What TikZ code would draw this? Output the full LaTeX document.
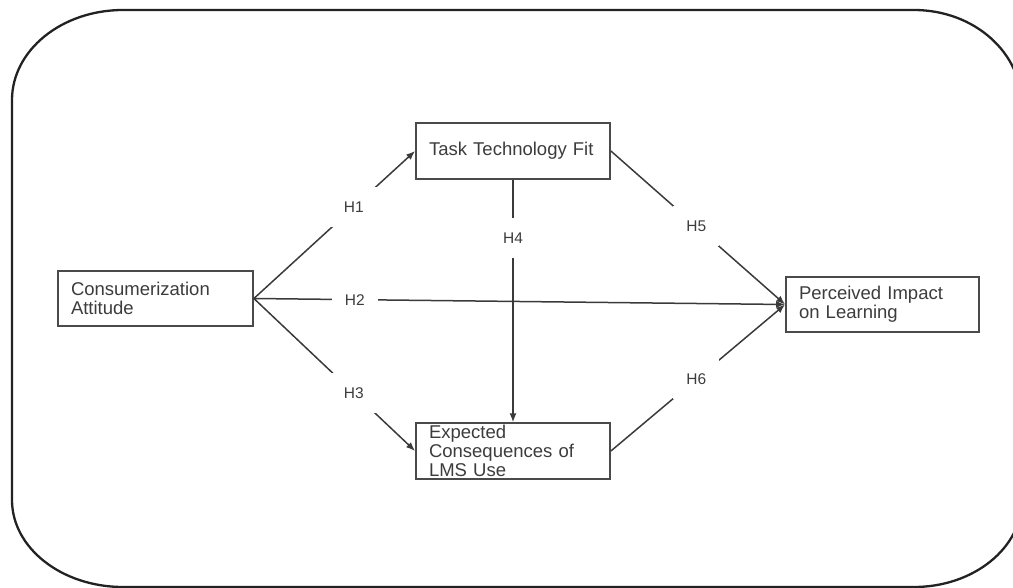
\documentclass[tikz,border=0pt]{standalone}
\usepackage{fontspec}
\setmainfont{Liberation Sans}
\usetikzlibrary{arrows.meta}
\definecolor{boxcol}{HTML}{4A4A4A}
\definecolor{linecol}{HTML}{3A3A3A}
\definecolor{txtcol}{HTML}{3C3C3C}
\definecolor{framecol}{HTML}{222222}
\tikzset{
  varbox/.style={draw=boxcol, line width=1.8pt, rectangle, inner sep=0pt,
    minimum height=55.5pt, text width=#1, inner xsep=13pt, align=left,
    text=txtcol, font=\fontsize{18.5}{19}\selectfont},
  hlabel/.style={fill=white, inner sep=0pt, minimum width=46pt, minimum height=40pt,
    text=txtcol, font=\fontsize{15.5}{18}\selectfont},
  conn/.style={draw=linecol, line width=1.5pt},
  arr/.style={conn, -{Latex[length=9pt,width=7pt]}},
}
\begin{document}
\begin{tikzpicture}[x=1pt,y=-1pt]
\useasboundingbox (0,0) rectangle (1013,588);
\begin{scope}
\clip (0,0) rectangle (1013,588);
\draw[framecol, line width=2.3pt]
  (12,100) .. controls (12,50.3) and (61.7,10) .. (123,10)
  -- (914,10) .. controls (973.6,10) and (1022,52) .. (1022,106)
  -- (1022,500) .. controls (1022,548) and (973.6,587) .. (914,587)
  -- (123,587) .. controls (61.7,587) and (12,548) .. (12,500) -- cycle;
\end{scope}

\node[varbox=169pt] (ca)  at (155.5,298.5) {Consumerization\\Attitude};
\node[varbox=168pt] (ttf) at (513,151) {Task Technology Fit};
\node[varbox=168pt] (ecl) at (513,451) {Expected\\Consequences of\\LMS Use};
\node[varbox=167pt] (pil) at (882.5,304.5) {Perceived Impact\\on Learning};

\draw[arr] (ca.east) -- node[hlabel, pos=0.62] (h1) {H1} (ttf.west);
\draw[arr] (ca.east) -- node[hlabel, pos=0.19] (h2) {H2} (pil.west);
\draw[arr] (ca.east) -- node[hlabel, pos=0.62] (h3) {H3} (ecl.west);
\draw[arr] (ttf.south) -- node[hlabel, pos=0.24] (h4) {H4} (ecl.north);
\draw[arr] (ttf.east) -- node[hlabel, pos=0.49] (h5) {H5} (pil.west);
\draw[arr] (ecl.east) -- node[hlabel, pos=0.49] (h6) {H6} (pil.west);
\end{tikzpicture}
\end{document}
